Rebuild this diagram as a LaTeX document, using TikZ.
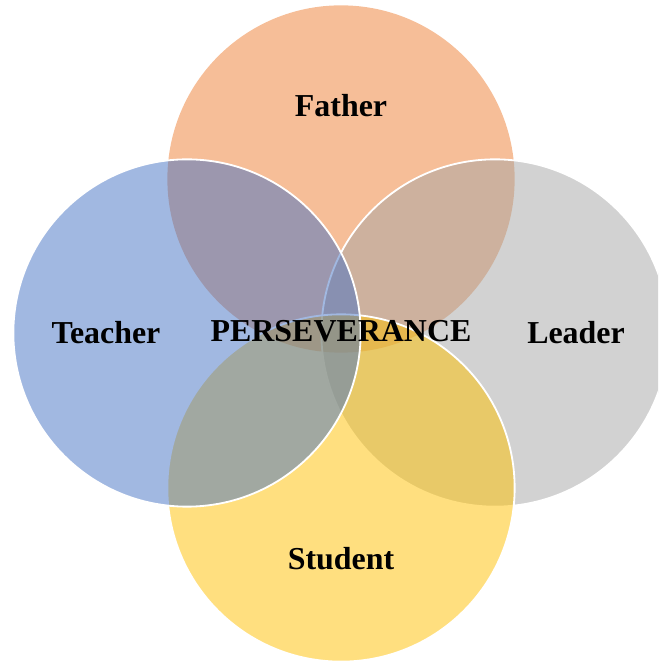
\documentclass[tikz,border=0pt]{standalone}
\usepackage{fontspec}
\setmainfont{Liberation Serif}
\definecolor{fatherorange}{HTML}{ED7D31}
\definecolor{teacherblue}{HTML}{4472C4}
\definecolor{leadergray}{HTML}{A5A5A5}
\definecolor{studentyellow}{HTML}{FFC000}
\tikzset{
  ring/.style={circle, minimum size=8.68cm, inner sep=0pt, fill opacity=0.5, draw=white, line width=1.3pt},
  bareing/.style={circle, minimum size=8.68cm, inner sep=0pt, fill opacity=0.5},
  rolename/.style={font=\bfseries\fontsize{22.7}{27}\selectfont, text=black}
}

\begin{document}
\begin{tikzpicture}[x=0.025cm, y=0.025cm]
  \clip (0,0) rectangle (658,661);
  % the four roles, back to front
  \node[bareing, fill=fatherorange] (father) at (341,482) {};
  \node[ring, fill=leadergray] (leader) at (495,328) {};
  \node[ring, fill=studentyellow] (student) at (341,173) {};
  \node[ring, fill=teacherblue] (teacher) at (187,328) {};

  \node[rolename] (fatherlbl) at (341,555) {Father};
  \node[rolename] (teacherlbl) at (106,328) {Teacher};
  \node[rolename] (leaderlbl) at (576,328) {Leader};
  \node[rolename] (studentlbl) at (341,102) {Student};
  \node[rolename] (core) at (341,330) {PERSEVERANCE};
\end{tikzpicture}
\end{document}
